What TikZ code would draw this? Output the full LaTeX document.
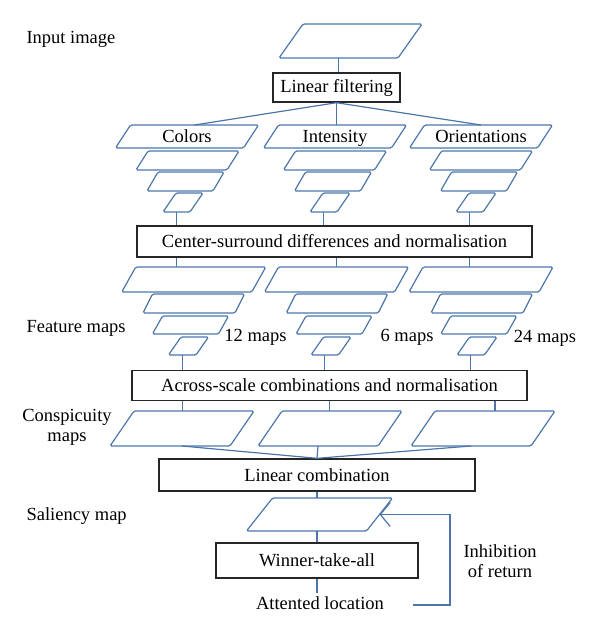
\documentclass[tikz,border=0pt]{standalone}
\usepackage{fontspec}
\setmainfont{Liberation Serif}
\usetikzlibrary{arrows.meta,positioning,shapes.geometric}
\definecolor{wire}{RGB}{76,118,170}
\definecolor{frame}{RGB}{38,38,38}

\begin{document}
\begin{tikzpicture}[
    x=1pt, y=-1pt,
    every node/.style={font=\fontsize{18.5}{20}\selectfont},
    box/.style={
      rectangle,
      draw=frame,
      line width=1.4pt,
      inner sep=0pt,
      align=center
    },
    layer/.style n args={3}{
      trapezium,
      draw=wire,
      line width=1.2pt,
      rounded corners=1.5pt,
      inner sep=0pt,
      outer sep=0pt,
      /utils/exec={\pgfmathsetlengthmacro\layerht{#2/2+6}\pgfmathsetlengthmacro\layerdp{#2/2-6}},
      text height=\layerht,
      text depth=\layerdp,
      trapezium left angle={atan(#2/#3)},
      trapezium right angle={180-atan(#2/#3)},
      trapezium stretches body,
      minimum width={#1+#3},
      minimum height=#2
    },
    link/.style={draw=wire, line width=1.2pt},
    back/.style={link, -{Straight Barb[length=10pt,width=24pt]}}
  ]
    \useasboundingbox (0,0) rectangle (600,632);

    % side labels
    \node[anchor=west] (lblinput) at (23,39) {Input image};
    \node[anchor=west] (lblfeat) at (23,328) {Feature maps};
    \node[align=center] (lblconsp) at (67,427) {Conspicuity\\maps};
    \node[anchor=west] (lblsal) at (23,516) {Saliency map};

    % input and linear filtering
    \node[layer={119}{34}{24}] (input) at (350.5,41) {};
    \node[box, minimum width=127pt, minimum height=29pt] (filter) at (336.5,87.5) {Linear filtering};

    % pyramids
    \node[layer={128}{23}{15}] (c1) at (187,136.5) {Colors};
    \node[layer={91}{19}{12}] (c2) at (187.5,160.5) {};
    \node[layer={66}{19}{11}] (c3) at (185.5,181.5) {};
    \node[layer={27}{19}{13}] (c4) at (183,202.5) {};

    \node[layer={128}{23}{15}] (i1) at (335,136.5) {Intensity};
    \node[layer={91}{19}{12}] (i2) at (335,160.5) {};
    \node[layer={66}{19}{11}] (i3) at (333,181.5) {};
    \node[layer={27}{19}{13}] (i4) at (330,202.5) {};

    \node[layer={128}{23}{15}] (o1) at (481,136.5) {Orientations};
    \node[layer={91}{19}{12}] (o2) at (481,160.5) {};
    \node[layer={66}{19}{11}] (o3) at (479,181.5) {};
    \node[layer={27}{19}{13}] (o4) at (476,202.5) {};

    \node[box, minimum width=395pt, minimum height=31pt] (csd) at (334.5,241.5) {Center-surround differences and normalisation};

    % feature maps
    \node[layer={130}{25}{14}] (fc1) at (193.75,279.5) {};
    \node[layer={92}{19}{9.5}] (fc2) at (193.75,303.5) {};
    \node[layer={66}{18}{10}] (fc3) at (190.5,325) {};
    \node[layer={27.5}{18}{12.5}] (fc4) at (188.5,346) {};

    \node[layer={130}{25}{14}] (fi1) at (336.5,279.5) {};
    \node[layer={92}{19}{9.5}] (fi2) at (337,303.5) {};
    \node[layer={66}{18}{10}] (fi3) at (334,325) {};
    \node[layer={27.5}{18}{12.5}] (fi4) at (331,346) {};

    \node[layer={130}{25}{14}] (fo1) at (481,279.5) {};
    \node[layer={92}{19}{9.5}] (fo2) at (481.75,303.5) {};
    \node[layer={66}{18}{10}] (fo3) at (478.75,325) {};
    \node[layer={27.5}{18}{12.5}] (fo4) at (477,346) {};

    \node (numc) at (255.5,337) {12 maps};
    \node (numi) at (407,337) {6 maps};
    \node (numo) at (545,338) {24 maps};

    \node[box, minimum width=395pt, minimum height=30pt] (acs) at (329.5,385.5) {Across-scale combinations and normalisation};

    % conspicuity maps
    \node[layer={120}{35}{24}] (cc) at (182,428.5) {};
    \node[layer={120}{35}{24}] (ci) at (330,428.5) {};
    \node[layer={120}{35}{24}] (co) at (483,428.5) {};

    \node[box, minimum width=316pt, minimum height=32pt] (lincomb) at (317,475) {Linear combination};
    \node[layer={120}{33}{26}] (sal) at (319.5,514.5) {};
    \node[box, minimum width=202pt, minimum height=35pt] (wta) at (317,560.5) {Winner-take-all};
    \node (att) at (320,603) {Attented location};
    \node[align=center] (inhib) at (500,561) {Inhibition\\of return};
    \coordinate (retstart) at (413,605);
    \coordinate (ret) at (450,605);

    % connectors
    \draw[link] (input.bottom side) -- (input.bottom side |- filter.north);
    \draw[link] (filter.south) -- (c1.top side);
    \draw[link] (filter.south) -- (filter.south |- i1.north);
    \draw[link] (filter.south) -- (o1.north);
    \draw[link] (c4.bottom side) -- (c4.bottom side |- csd.north);
    \draw[link] (i4.bottom side) -- (i4.bottom side |- csd.north);
    \draw[link] (o4.bottom side) -- (o4.bottom side |- csd.north);
    \draw[link] (csd.south -| c4.bottom side) -- (fc1.north -| c4.bottom side);
    \draw[link] (csd.south -| fi1) -- (fi1.north);
    \draw[link] (csd.south -| o4.bottom side) -- (fo1.north -| o4.bottom side);
    \draw[link] (fc4.bottom side) -- (fc4.bottom side |- acs.north);
    \draw[link] (fi4.bottom side) -- (fi4.bottom side |- acs.north);
    \draw[link] (fo4.bottom side) -- (fo4.bottom side |- acs.north);
    \draw[link] (acs.south -| fc4.bottom side) -- (cc.north -| fc4.bottom side);
    \draw[link] (acs.south) -- (acs.south |- ci.north);
    \draw[link] (acs.south -| co.top side) -- (co.top side);
    \draw[link] (cc.south) -- (lincomb.north);
    \draw[link] (ci.bottom side) -- (lincomb.north);
    \draw[link] (co.bottom side) -- (lincomb.north);
    \draw[link] (lincomb.south) -- (lincomb.south |- sal.north);
    \draw[link] (wta.north |- sal.south) -- (wta.north);
    \draw[link] (wta.south) -- (wta.south |- att.north);
    \draw[back] (retstart) -- (ret) |- (sal.right side);
  \end{tikzpicture}
\end{document}
